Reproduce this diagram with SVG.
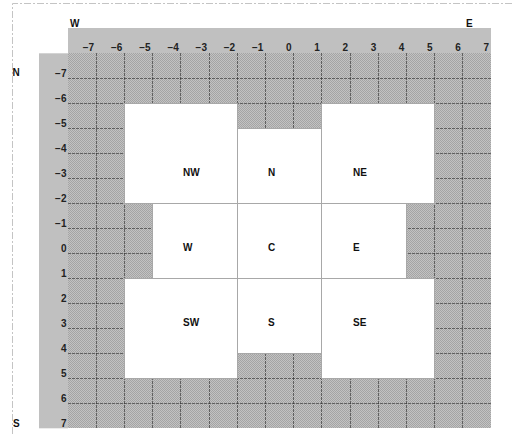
<svg xmlns="http://www.w3.org/2000/svg" width="513" height="434" viewBox="0 0 513 434">
<defs>
<pattern id="dither" x="0" y="0" width="2" height="2" patternUnits="userSpaceOnUse">
<rect width="2" height="2" fill="#a4a4a4"/>
<rect x="1" y="0" width="1" height="1" fill="#c2c2c2"/>
<rect x="0" y="1" width="1" height="1" fill="#c2c2c2"/>
</pattern>
<style>
.frame{stroke:#c4c4c4;stroke-width:1;stroke-dasharray:7 2 2 2;fill:none}
.band{fill:#c0c0c0}
.tex{fill:url(#dither)}
.grid{stroke:#2a2a2a;stroke-width:1;stroke-dasharray:3 1;opacity:0.6;fill:none}
.box{fill:#fff;stroke:#a8a8a8;stroke-width:1}
.num{font-family:"Liberation Sans",Arial,sans-serif;font-size:10px;font-weight:bold;fill:#222;text-anchor:end}
.ax{font-family:"Liberation Sans",Arial,sans-serif;font-size:10px;font-weight:bold;fill:#111}
.lbl{font-family:"Liberation Sans",Arial,sans-serif;font-size:10px;font-weight:bold;fill:#111}
</style>
</defs>
<rect width="513" height="434" fill="#fff"/>
<path class="frame" d="M12.5 434V3.5H513"/>

<g id="axes">
<rect class="band" x="68" y="28" width="423" height="25.3"/>
<rect class="band" x="39" y="53.3" width="29" height="375"/>
<text class="ax" x="70" y="26.5">W</text>
<text class="ax" x="466" y="26.5">E</text>
<text class="ax" x="12.5" y="76.3">N</text>
<text class="ax" x="13" y="427">S</text>
<g class="num">
<text x="94.2" y="51">−7</text><text x="122.4" y="51">−6</text><text x="150.6" y="51">−5</text><text x="178.8" y="51">−4</text><text x="207" y="51">−3</text><text x="235.2" y="51">−2</text><text x="263.4" y="51">−1</text><text x="291.6" y="51">0</text><text x="319.8" y="51">1</text><text x="348" y="51">2</text><text x="376.2" y="51">3</text><text x="404.4" y="51">4</text><text x="432.6" y="51">5</text><text x="460.8" y="51">6</text><text x="489" y="51">7</text>
<text x="66.5" y="76.5">−7</text><text x="66.5" y="101.5">−6</text><text x="66.5" y="126.5">−5</text><text x="66.5" y="151.5">−4</text><text x="66.5" y="176.5">−3</text><text x="66.5" y="201.5">−2</text><text x="66.5" y="226.5">−1</text><text x="66.5" y="251.5">0</text><text x="66.5" y="276.5">1</text><text x="66.5" y="301.5">2</text><text x="66.5" y="326.5">3</text><text x="66.5" y="351.5">4</text><text x="66.5" y="376.5">5</text><text x="66.5" y="401.5">6</text><text x="66.5" y="426.5">7</text>
</g>
</g>

<g id="grid">
<rect class="tex" x="68" y="53" width="423" height="375"/>
<path class="grid" d="M96.5 53V428M124.5 53V428M152.5 53V428M180.5 53V428M209.5 53V428M237.5 53V428M265.5 53V428M293.5 53V428M321.5 53V428M350.5 53V428M378.5 53V428M406.5 53V428M434.5 53V428M462.5 53V428"/>
<path class="grid" d="M68 78.5H491M68 103.5H491M68 128.5H491M68 153.5H491M68 178.5H491M68 203.5H491M68 228.5H491M68 253.5H491M68 278.5H491M68 303.5H491M68 328.5H491M68 353.5H491M68 378.5H491M68 403.5H491"/>
</g>

<g id="NW"><rect class="box" x="124.5" y="103.5" width="113" height="100"/><text class="lbl" x="183" y="176.3">NW</text></g>
<g id="N"><rect class="box" x="237.5" y="128.5" width="84" height="75"/><text class="lbl" x="268" y="176.3">N</text></g>
<g id="NE"><rect class="box" x="321.5" y="103.5" width="113" height="100"/><text class="lbl" x="353" y="176.3">NE</text></g>
<g id="W"><rect class="box" x="152.5" y="203.5" width="85" height="75"/><text class="lbl" x="183" y="251.3">W</text></g>
<g id="C"><rect class="box" x="237.5" y="203.5" width="84" height="75"/><text class="lbl" x="268" y="251.3">C</text></g>
<g id="E"><rect class="box" x="321.5" y="203.5" width="85" height="75"/><text class="lbl" x="353" y="251.3">E</text></g>
<g id="SW"><rect class="box" x="124.5" y="278.5" width="113" height="100"/><text class="lbl" x="183" y="326.3">SW</text></g>
<g id="S"><rect class="box" x="237.5" y="278.5" width="84" height="75"/><text class="lbl" x="268" y="326.3">S</text></g>
<g id="SE"><rect class="box" x="321.5" y="278.5" width="113" height="100"/><text class="lbl" x="353" y="326.3">SE</text></g>

<g id="connectors"/>
</svg>
